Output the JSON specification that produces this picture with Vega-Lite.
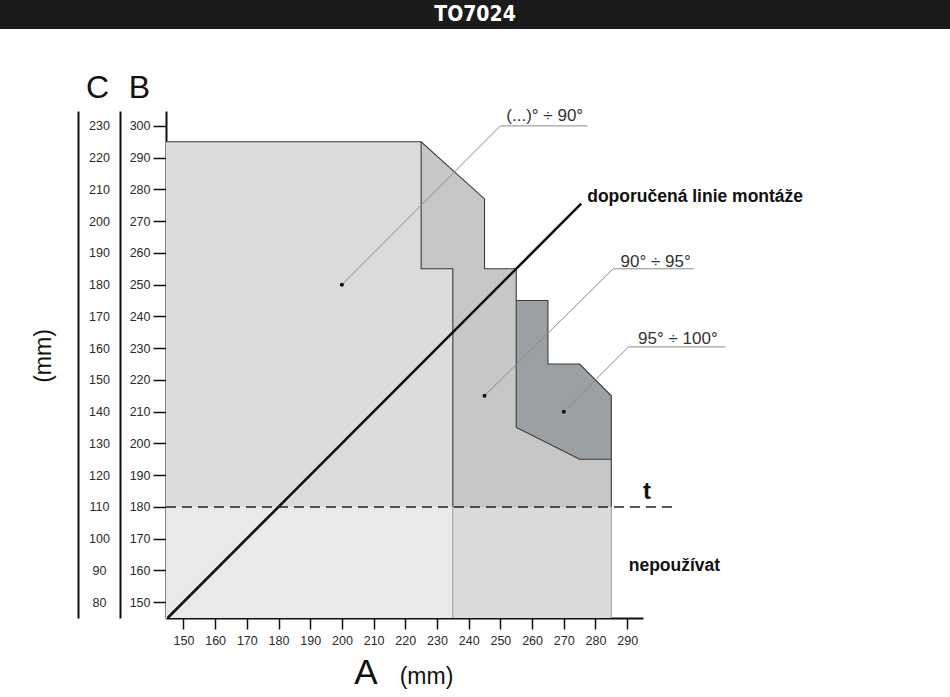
{
  "$schema": "https://vega.github.io/schema/vega-lite/v6.json",
  "width": 477,
  "height": 507,
  "autosize": {"type": "none"},
  "padding": {"left": 166, "top": 111, "right": 307, "bottom": 79},
  "background": "white",
  "config": {
    "view": {"stroke": null},
    "font": "Liberation Sans",
    "axis": {
      "grid": false,
      "labelFont": "Liberation Sans",
      "titleFont": "Liberation Sans",
      "labelFontSize": 12.5,
      "labelColor": "#2a2a2a",
      "domainColor": "#111111",
      "domainWidth": 2,
      "tickColor": "#111111",
      "tickWidth": 1.5,
      "titleColor": "#111111",
      "titleFontWeight": "normal",
      "zindex": 1,
      "labelOverlap": false,
      "labelFlush": false
    }
  },
  "resolve": {"axis": {"x": "independent", "y": "independent"}},
  "datasets": {
    "poly": [
      {"shape": "lowL", "i": 1, "a": 144.5, "b": 145},
      {"shape": "lowL", "i": 2, "a": 144.5, "b": 180},
      {"shape": "lowL", "i": 3, "a": 235, "b": 180},
      {"shape": "lowL", "i": 4, "a": 235, "b": 145},
      {"shape": "lowR", "i": 1, "a": 235, "b": 145},
      {"shape": "lowR", "i": 2, "a": 235, "b": 180},
      {"shape": "lowR", "i": 3, "a": 285, "b": 180},
      {"shape": "lowR", "i": 4, "a": 285, "b": 145},
      {"shape": "r1", "i": 1, "a": 144.5, "b": 180},
      {"shape": "r1", "i": 2, "a": 144.5, "b": 295},
      {"shape": "r1", "i": 3, "a": 225, "b": 295},
      {"shape": "r1", "i": 4, "a": 225, "b": 255},
      {"shape": "r1", "i": 5, "a": 235, "b": 255},
      {"shape": "r1", "i": 6, "a": 235, "b": 180},
      {"shape": "r2", "i": 1, "a": 225, "b": 295},
      {"shape": "r2", "i": 2, "a": 245, "b": 277},
      {"shape": "r2", "i": 3, "a": 245, "b": 255},
      {"shape": "r2", "i": 4, "a": 255, "b": 255},
      {"shape": "r2", "i": 5, "a": 255, "b": 205},
      {"shape": "r2", "i": 6, "a": 275, "b": 195},
      {"shape": "r2", "i": 7, "a": 285, "b": 195},
      {"shape": "r2", "i": 8, "a": 285, "b": 180},
      {"shape": "r2", "i": 9, "a": 235, "b": 180},
      {"shape": "r2", "i": 10, "a": 235, "b": 255},
      {"shape": "r2", "i": 11, "a": 225, "b": 255},
      {"shape": "r3", "i": 1, "a": 255, "b": 245},
      {"shape": "r3", "i": 2, "a": 265, "b": 245},
      {"shape": "r3", "i": 3, "a": 265, "b": 225},
      {"shape": "r3", "i": 4, "a": 275, "b": 225},
      {"shape": "r3", "i": 5, "a": 285, "b": 215},
      {"shape": "r3", "i": 6, "a": 285, "b": 195},
      {"shape": "r3", "i": 7, "a": 275, "b": 195},
      {"shape": "r3", "i": 8, "a": 255, "b": 205}
    ],
    "edges": [
      {"path": "A", "tone": "dark", "i": 1, "a": 144.5, "b": 295},
      {"path": "A", "tone": "dark", "i": 2, "a": 225, "b": 295},
      {"path": "A", "tone": "dark", "i": 3, "a": 245, "b": 277},
      {"path": "A", "tone": "dark", "i": 4, "a": 245, "b": 255},
      {"path": "A", "tone": "dark", "i": 5, "a": 255, "b": 255},
      {"path": "A", "tone": "dark", "i": 6, "a": 255, "b": 245},
      {"path": "B", "tone": "dark", "i": 1, "a": 255, "b": 245},
      {"path": "B", "tone": "dark", "i": 2, "a": 265, "b": 245},
      {"path": "B", "tone": "dark", "i": 3, "a": 265, "b": 225},
      {"path": "B", "tone": "dark", "i": 4, "a": 275, "b": 225},
      {"path": "B", "tone": "dark", "i": 5, "a": 285, "b": 215},
      {"path": "B", "tone": "dark", "i": 6, "a": 285, "b": 195},
      {"path": "B", "tone": "dark", "i": 7, "a": 275, "b": 195},
      {"path": "B", "tone": "dark", "i": 8, "a": 255, "b": 205},
      {"path": "B", "tone": "dark", "i": 9, "a": 255, "b": 245},
      {"path": "C", "tone": "dark", "i": 1, "a": 285, "b": 195},
      {"path": "C", "tone": "dark", "i": 2, "a": 285, "b": 180},
      {"path": "D", "tone": "dark", "i": 1, "a": 225, "b": 295},
      {"path": "D", "tone": "dark", "i": 2, "a": 225, "b": 255},
      {"path": "D", "tone": "dark", "i": 3, "a": 235, "b": 255},
      {"path": "D", "tone": "dark", "i": 4, "a": 235, "b": 180},
      {"path": "E", "tone": "light", "i": 1, "a": 235, "b": 180},
      {"path": "E", "tone": "light", "i": 2, "a": 235, "b": 145},
      {"path": "F", "tone": "light", "i": 1, "a": 285, "b": 180},
      {"path": "F", "tone": "light", "i": 2, "a": 285, "b": 145}
    ],
    "guides": [
      {"g": "diag", "i": 1, "a": 145, "b": 145},
      {"g": "diag", "i": 2, "a": 275.5, "b": 275.5},
      {"g": "dash", "i": 1, "a": 144.5, "b": 180},
      {"g": "dash", "i": 2, "a": 305.5, "b": 180}
    ],
    "leaders": [
      {"id": "L1", "i": 1, "a": 200, "b": 250},
      {"id": "L1", "i": 2, "a": 250, "b": 300},
      {"id": "L1", "i": 3, "a": 277.5, "b": 300},
      {"id": "L2", "i": 1, "a": 245, "b": 215},
      {"id": "L2", "i": 2, "a": 285.6, "b": 255},
      {"id": "L2", "i": 3, "a": 311, "b": 255},
      {"id": "L3", "i": 1, "a": 270, "b": 210},
      {"id": "L3", "i": 2, "a": 290.4, "b": 230.4},
      {"id": "L3", "i": 3, "a": 321, "b": 230.4}
    ],
    "dots": [
      {"a": 200, "b": 250},
      {"a": 245, "b": 215},
      {"a": 270, "b": 210}
    ],
    "labels": [
      {"kind": "angle", "text": "(...)° ÷ 90°", "a": 264, "b": 301.7},
      {"kind": "angle", "text": "90° ÷ 95°", "a": 299, "b": 255.7},
      {"kind": "angle", "text": "95° ÷ 100°", "a": 306, "b": 231.2},
      {"kind": "note", "text": "doporučená linie montáže", "a": 277.4, "b": 276},
      {"kind": "note", "text": "nepoužívat", "a": 290.5, "b": 159.8},
      {"kind": "t", "text": "t", "a": 296.3, "b": 182.4}
    ]
  },
  "layer": [
    {
      "data": {"name": "poly"},
      "transform": [{"filter": "datum.shape == 'lowL'"}],
      "mark": {"type": "line", "interpolate": "linear-closed", "fill": "#e9e9e9", "strokeOpacity": 0, "clip": false},
      "encoding": {
        "x": {"field": "a", "type": "quantitative", "scale": {"domain": [144.5, 295], "nice": false, "zero": false},
          "axis": {"orient": "bottom", "values": [150, 160, 170, 180, 190, 200, 210, 220, 230, 240, 250, 260, 270, 280, 290], "tickSize": 11, "labelPadding": 5, "title": "A", "titleFontSize": 35, "titleAngle": 0, "titleX": 199.5, "titleY": 65, "titleAlign": "center", "titleBaseline": "alphabetic"}},
        "y": {"field": "b", "type": "quantitative", "scale": {"domain": [145, 304.7], "nice": false, "zero": false},
          "axis": {"orient": "left", "values": [150, 160, 170, 180, 190, 200, 210, 220, 230, 240, 250, 260, 270, 280, 290, 300], "tickSize": 13, "labelPadding": 3, "title": "B", "titleFontSize": 32, "titleAngle": 0, "titleX": -27, "titleY": -13.5, "titleAlign": "center", "titleBaseline": "alphabetic"}},
        "order": {"field": "i", "type": "quantitative"}
      }
    },
    {
      "data": {"name": "poly"},
      "transform": [{"filter": "datum.shape == 'lowR'"}],
      "mark": {"type": "line", "interpolate": "linear-closed", "fill": "#dadada", "strokeOpacity": 0, "clip": false},
      "encoding": {
        "x": {"field": "a", "type": "quantitative", "scale": {"domain": [144.5, 295], "nice": false, "zero": false},
          "axis": {"orient": "bottom", "domain": false, "ticks": false, "labels": false, "title": "(mm)", "titleFontSize": 23, "titleAngle": 0, "titleX": 260, "titleY": 65, "titleAlign": "center", "titleBaseline": "alphabetic"}},
        "y": {"field": "b", "type": "quantitative", "scale": {"domain": [145, 304.7], "nice": false, "zero": false},
          "axis": {"orient": "left", "offset": 46, "values": [150, 160, 170, 180, 190, 200, 210, 220, 230, 240, 250, 260, 270, 280, 290, 300], "ticks": false, "tickSize": 0, "labelPadding": 21, "labelAlign": "center", "labelExpr": "datum.value - 70", "title": "C", "titleFontSize": 32, "titleAngle": 0, "titleX": -23, "titleY": -13.5, "titleAlign": "center", "titleBaseline": "alphabetic"}},
        "order": {"field": "i", "type": "quantitative"}
      }
    },
    {
      "data": {"name": "poly"},
      "transform": [{"filter": "datum.shape == 'r1'"}],
      "mark": {"type": "line", "interpolate": "linear-closed", "fill": "#dcdcdc", "strokeOpacity": 0, "clip": false},
      "encoding": {
        "x": {"field": "a", "type": "quantitative", "scale": {"domain": [144.5, 295], "nice": false, "zero": false}, "axis": null},
        "y": {"field": "b", "type": "quantitative", "scale": {"domain": [145, 304.7], "nice": false, "zero": false},
          "axis": {"orient": "left", "offset": 88, "labels": false, "ticks": false, "title": "(mm)", "titleFontSize": 23, "titleAngle": -90, "titleX": -34.5, "titleY": 244.5, "titleAlign": "center", "titleBaseline": "middle"}},
        "order": {"field": "i", "type": "quantitative"}
      }
    },
    {
      "data": {"name": "poly"},
      "transform": [{"filter": "datum.shape == 'r2'"}],
      "mark": {"type": "line", "interpolate": "linear-closed", "fill": "#c7c7c7", "strokeOpacity": 0, "clip": false},
      "encoding": {
        "x": {"field": "a", "type": "quantitative", "axis": null},
        "y": {"field": "b", "type": "quantitative", "axis": null},
        "order": {"field": "i", "type": "quantitative"}
      }
    },
    {
      "data": {"name": "poly"},
      "transform": [{"filter": "datum.shape == 'r3'"}],
      "mark": {"type": "line", "interpolate": "linear-closed", "fill": "#9ba0a5", "strokeOpacity": 0, "clip": false},
      "encoding": {
        "x": {"field": "a", "type": "quantitative", "axis": null},
        "y": {"field": "b", "type": "quantitative", "axis": null},
        "order": {"field": "i", "type": "quantitative"}
      }
    },
    {
      "data": {"name": "edges"},
      "transform": [{"filter": "datum.tone == 'light'"}],
      "mark": {"type": "line", "stroke": "#9a9a9a", "strokeWidth": 1, "clip": false},
      "encoding": {
        "x": {"field": "a", "type": "quantitative", "axis": null},
        "y": {"field": "b", "type": "quantitative", "axis": null},
        "detail": {"field": "path"},
        "order": {"field": "i", "type": "quantitative"}
      }
    },
    {
      "data": {"name": "edges"},
      "transform": [{"filter": "datum.tone == 'dark'"}],
      "mark": {"type": "line", "stroke": "#3a3a3a", "strokeWidth": 1.1, "clip": false},
      "encoding": {
        "x": {"field": "a", "type": "quantitative", "axis": null},
        "y": {"field": "b", "type": "quantitative", "axis": null},
        "detail": {"field": "path"},
        "order": {"field": "i", "type": "quantitative"}
      }
    },
    {
      "data": {"name": "guides"},
      "transform": [{"filter": "datum.g == 'dash'"}],
      "mark": {"type": "line", "stroke": "#222222", "strokeWidth": 1.5, "strokeDash": [10, 6], "clip": false},
      "encoding": {
        "x": {"field": "a", "type": "quantitative", "axis": null},
        "y": {"field": "b", "type": "quantitative", "axis": null},
        "order": {"field": "i", "type": "quantitative"}
      }
    },
    {
      "data": {"name": "leaders"},
      "mark": {"type": "line", "stroke": "#8a8a8a", "strokeWidth": 1, "clip": false},
      "encoding": {
        "x": {"field": "a", "type": "quantitative", "axis": null},
        "y": {"field": "b", "type": "quantitative", "axis": null},
        "detail": {"field": "id"},
        "order": {"field": "i", "type": "quantitative"}
      }
    },
    {
      "data": {"name": "guides"},
      "transform": [{"filter": "datum.g == 'diag'"}],
      "mark": {"type": "line", "stroke": "#111111", "strokeWidth": 2.6, "clip": false},
      "encoding": {
        "x": {"field": "a", "type": "quantitative", "axis": null},
        "y": {"field": "b", "type": "quantitative", "axis": null},
        "order": {"field": "i", "type": "quantitative"}
      }
    },
    {
      "data": {"name": "dots"},
      "mark": {"type": "circle", "color": "#111111", "size": 16, "opacity": 1, "clip": false},
      "encoding": {
        "x": {"field": "a", "type": "quantitative", "axis": null},
        "y": {"field": "b", "type": "quantitative", "axis": null}
      }
    },
    {
      "data": {"name": "labels"},
      "transform": [{"filter": "datum.kind == 'angle'"}],
      "mark": {"type": "text", "font": "Liberation Sans", "fontSize": 17, "color": "#333333", "align": "center", "baseline": "alphabetic", "clip": false},
      "encoding": {
        "x": {"field": "a", "type": "quantitative", "axis": null},
        "y": {"field": "b", "type": "quantitative", "axis": null},
        "text": {"field": "text"}
      }
    },
    {
      "data": {"name": "labels"},
      "transform": [{"filter": "datum.kind == 'note'"}],
      "mark": {"type": "text", "font": "Liberation Sans", "fontSize": 17.5, "fontWeight": "bold", "color": "#111111", "align": "left", "baseline": "alphabetic", "clip": false},
      "encoding": {
        "x": {"field": "a", "type": "quantitative", "axis": null},
        "y": {"field": "b", "type": "quantitative", "axis": null},
        "text": {"field": "text"}
      }
    },
    {
      "data": {"name": "labels"},
      "transform": [{"filter": "datum.kind == 't'"}],
      "mark": {"type": "text", "font": "Liberation Sans", "fontSize": 24, "fontWeight": "bold", "color": "#111111", "align": "center", "baseline": "alphabetic", "clip": false},
      "encoding": {
        "x": {"field": "a", "type": "quantitative", "axis": null},
        "y": {"field": "b", "type": "quantitative", "axis": null},
        "text": {"field": "text"}
      }
    },
    {
      "data": {"values": [{"title": "TO7024"}]},
      "mark": {"type": "rect", "color": "#1b1b1b", "clip": false},
      "encoding": {
        "x": {"datum": 92, "type": "quantitative", "axis": null},
        "x2": {"datum": 392.5},
        "y": {"datum": 339.8, "type": "quantitative", "axis": null},
        "y2": {"datum": 330.5}
      }
    },
    {
      "data": {"values": [{"title": "TO7024"}]},
      "mark": {"type": "text", "font": "DejaVu Sans Condensed, Liberation Sans, sans-serif", "fontSize": 21, "fontWeight": "bold", "color": "#ffffff", "align": "center", "baseline": "middle", "clip": false},
      "encoding": {
        "x": {"datum": 242, "type": "quantitative", "axis": null},
        "y": {"datum": 335.0, "type": "quantitative", "axis": null},
        "text": {"field": "title"}
      }
    }
  ]
}
